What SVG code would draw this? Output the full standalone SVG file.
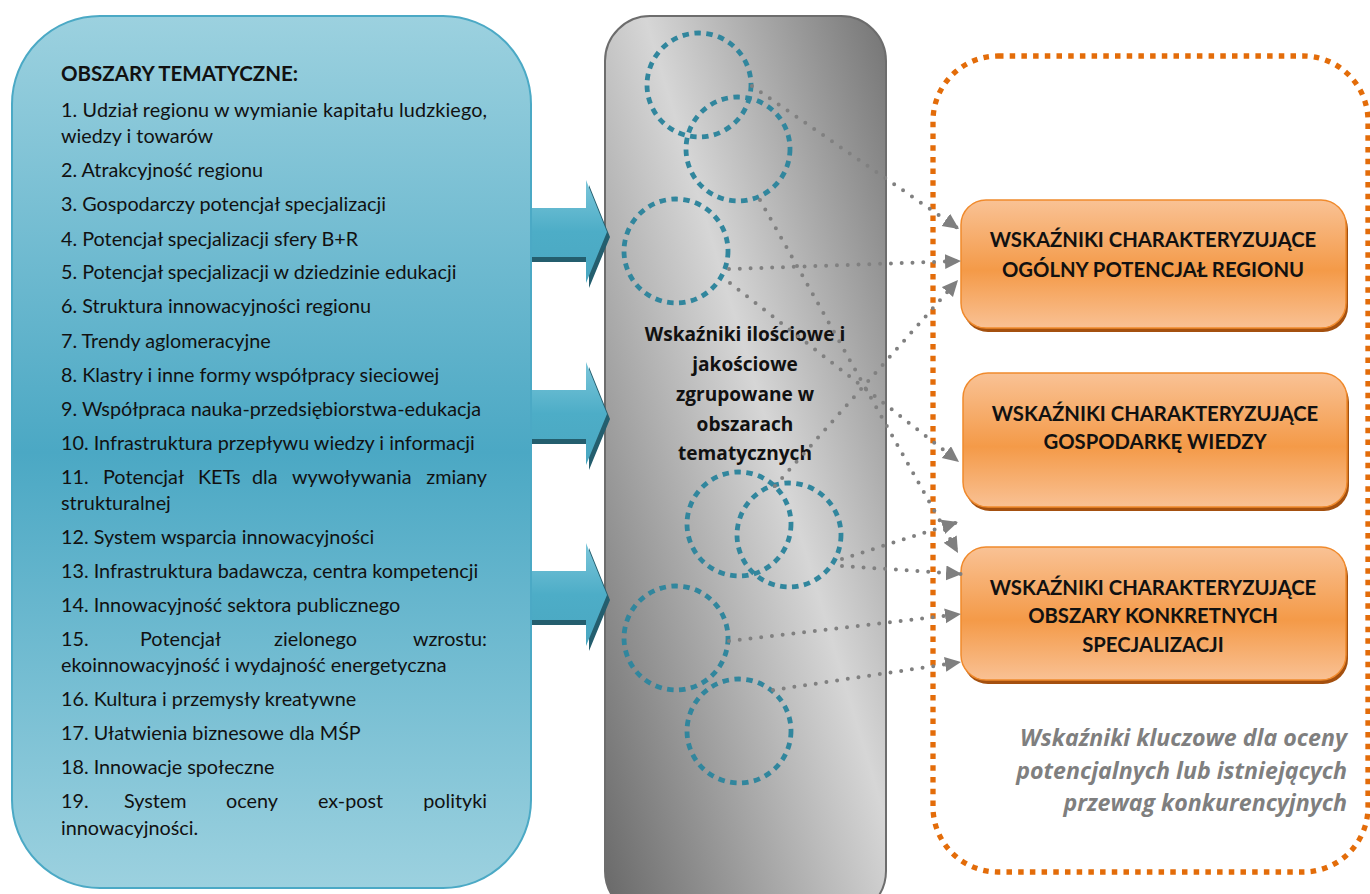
<svg xmlns="http://www.w3.org/2000/svg" width="1370" height="894" viewBox="0 0 1370 894">
  <defs>
    <linearGradient id="gPanel" x1="0" y1="0" x2="0" y2="1">
      <stop offset="0" stop-color="#9CD1DF"/>
      <stop offset="0.5" stop-color="#4BA8C4"/>
      <stop offset="1" stop-color="#9CD1DF"/>
    </linearGradient>
    <linearGradient id="gArrow" x1="0" y1="0" x2="0" y2="1">
      <stop offset="0" stop-color="#7CC6DA"/>
      <stop offset="0.5" stop-color="#4DADC7"/>
      <stop offset="1" stop-color="#4AA7C1"/>
    </linearGradient>
    <linearGradient id="gColumn" gradientUnits="userSpaceOnUse" x1="487" y1="533" x2="1061" y2="361">
      <stop offset="0" stop-color="#666666"/>
      <stop offset="0.5" stop-color="#D6D6D6"/>
      <stop offset="1" stop-color="#575757"/>
    </linearGradient>
    <linearGradient id="gOrange" x1="0" y1="0" x2="0" y2="1">
      <stop offset="0" stop-color="#F9C295"/>
      <stop offset="0.55" stop-color="#F49A48"/>
      <stop offset="1" stop-color="#F9C194"/>
    </linearGradient>
    <marker id="head" markerUnits="userSpaceOnUse" markerWidth="17" markerHeight="16" refX="16" refY="7.5" orient="auto">
      <path d="M0,0 L16,7.5 L0,15 Z" fill="#7F7F7F"/>
    </marker>
  </defs>
  <style>
    .item { font-family: Lato, "Open Sans", sans-serif; font-size: 19.8px; fill: #111111; }
    .end { text-anchor: end; }
    .head { font-family: Lato, "Open Sans", sans-serif; font-size: 20.5px; font-weight: bold; fill: #111111; }
    .mid { font-family: "Open Sans", Lato, sans-serif; font-size: 19.1px; font-weight: bold; fill: #111111; text-anchor: middle; }
    .box { fill: url(#gOrange); stroke: #F08A2C; stroke-width: 1.5; }
    .boxShadow { fill: #A4500F; }
    .boxText { font-family: Lato, "Open Sans", sans-serif; font-size: 20.3px; font-weight: bold; fill: #111111; text-anchor: middle; }
    .ring { fill: none; stroke: #31869D; stroke-width: 4.8; stroke-dasharray: 6.5 5.5; }
    .link { fill: none; stroke: #808080; stroke-width: 4; stroke-linecap: round; stroke-dasharray: 0 10.8; marker-end: url(#head); }
    .note { font-family: "Open Sans", Lato, sans-serif; font-size: 23.2px; font-weight: bold; font-style: italic; fill: #7F7F7F; text-anchor: end; }
  </style>

  <rect width="1370" height="894" fill="#FFFFFF"/>

  <!-- dotted frame around the key indicators -->
  <rect id="frame-key" x="933" y="56" width="435" height="816" rx="65" fill="none" stroke="#E36C09" stroke-width="5.3" stroke-dasharray="5.5 6.2"/>

  <!-- centre column -->
  <g id="column-indicators">
    <rect x="605" y="16" width="281" height="900" rx="45" fill="url(#gColumn)" stroke="#6D6D6D" stroke-width="2"/>
    <circle class="ring" cx="699" cy="85" r="52"/>
    <circle class="ring" cx="738" cy="149" r="52"/>
    <circle class="ring" cx="676" cy="251" r="52"/>
    <circle class="ring" cx="739" cy="524" r="52"/>
    <circle class="ring" cx="789" cy="535" r="52"/>
    <circle class="ring" cx="676" cy="638" r="52"/>
    <circle class="ring" cx="739" cy="731" r="52"/>
    <text class="mid" x="745" y="341">Wskaźniki ilościowe i</text>
    <text class="mid" x="745" y="371">jakościowe</text>
    <text class="mid" x="745" y="401">zgrupowane w</text>
    <text class="mid" x="745" y="431">obszarach</text>
    <text class="mid" x="745" y="460">tematycznych</text>
  </g>

  <!-- block arrows from the themes panel into the column -->
  <g id="arrow-1">
    <path d="M523,213 L589,213 L589,185 L610,237 L589,288 L589,262 L523,262 Z" fill="#245E6E"/>
    <path d="M520,208 L586,208 L586,180 L607,232 L586,283 L586,257 L520,257 Z" fill="url(#gArrow)"/>
  </g>
  <g id="arrow-2">
    <path d="M523,395 L589,395 L589,367 L610,419 L589,470 L589,444 L523,444 Z" fill="#245E6E"/>
    <path d="M520,390 L586,390 L586,362 L607,414 L586,465 L586,439 L520,439 Z" fill="url(#gArrow)"/>
  </g>
  <g id="arrow-3">
    <path d="M523,576 L589,576 L589,548 L610,600 L589,651 L589,625 L523,625 Z" fill="#245E6E"/>
    <path d="M520,571 L586,571 L586,543 L607,595 L586,646 L586,620 L520,620 Z" fill="url(#gArrow)"/>
  </g>

  <!-- thematic areas panel -->
  <g id="panel-themes">
    <rect x="12" y="16" width="519" height="872" rx="88" fill="url(#gPanel)" stroke="#4BA9C5" stroke-width="2"/>
    <text class="head" x="61" y="81">OBSZARY TEMATYCZNE:</text>
    <text class="item" x="61" y="117" textLength="426">1. Udział regionu w wymianie kapitału ludzkiego,</text>
    <text class="item" x="61" y="143">wiedzy i towarów</text>
    <text class="item" x="61" y="177">2. Atrakcyjność regionu</text>
    <text class="item" x="61" y="211">3. Gospodarczy potencjał specjalizacji</text>
    <text class="item" x="61" y="246">4. Potencjał specjalizacji sfery B+R</text>
    <text class="item" x="61" y="279">5. Potencjał specjalizacji w dziedzinie edukacji</text>
    <text class="item" x="61" y="313">6. Struktura innowacyjności regionu</text>
    <text class="item" x="61" y="348">7. Trendy aglomeracyjne</text>
    <text class="item" x="61" y="382">8. Klastry i inne formy współpracy sieciowej</text>
    <text class="item" x="61" y="416">9. Współpraca nauka-przedsiębiorstwa-edukacja</text>
    <text class="item" x="61" y="450">10. Infrastruktura przepływu wiedzy i informacji</text>
    <text class="item" y="484"><tspan x="61">11.</tspan><tspan x="103">Potencjał</tspan><tspan x="198">KETs</tspan><tspan x="252">dla</tspan><tspan x="292">wywoływania</tspan></text>
    <text class="item end" x="487" y="484">zmiany</text>
    <text class="item" x="61" y="510">strukturalnej</text>
    <text class="item" x="61" y="544">12. System wsparcia innowacyjności</text>
    <text class="item" x="61" y="578">13. Infrastruktura badawcza, centra kompetencji</text>
    <text class="item" x="61" y="612">14. Innowacyjność sektora publicznego</text>
    <text class="item" y="646"><tspan x="61">15.</tspan><tspan x="140">Potencjał</tspan><tspan x="274">zielonego</tspan></text>
    <text class="item end" x="487" y="646">wzrostu:</text>
    <text class="item" x="61" y="672">ekoinnowacyjność i wydajność energetyczna</text>
    <text class="item" x="61" y="706">16. Kultura i przemysły kreatywne</text>
    <text class="item" x="61" y="740">17. Ułatwienia biznesowe dla MŚP</text>
    <text class="item" x="61" y="774">18. Innowacje społeczne</text>
    <text class="item" y="808"><tspan x="61">19.</tspan><tspan x="124">System</tspan><tspan x="226">oceny</tspan><tspan x="318">ex-post</tspan></text>
    <text class="item end" x="487" y="808">polityki</text>
    <text class="item" x="61" y="835">innowacyjności.</text>
  </g>

  <!-- indicator boxes -->
  <g id="box-general">
    <rect class="boxShadow" x="963" y="204" width="385" height="128" rx="25"/>
    <rect class="box" x="961" y="200" width="385" height="128" rx="25"/>
    <text class="boxText" x="1153" y="247">WSKAŹNIKI CHARAKTERYZUJĄCE</text>
    <text class="boxText" x="1153" y="277">OGÓLNY POTENCJAŁ REGIONU</text>
  </g>
  <g id="box-knowledge">
    <rect class="boxShadow" x="965" y="377" width="384" height="134" rx="25"/>
    <rect class="box" x="963" y="373" width="384" height="134" rx="25"/>
    <text class="boxText" x="1155" y="421">WSKAŹNIKI CHARAKTERYZUJĄCE</text>
    <text class="boxText" x="1155" y="449">GOSPODARKĘ WIEDZY</text>
  </g>
  <g id="box-specialisations">
    <rect class="boxShadow" x="963" y="551" width="385" height="133" rx="25"/>
    <rect class="box" x="961" y="547" width="385" height="133" rx="25"/>
    <text class="boxText" x="1153" y="595">WSKAŹNIKI CHARAKTERYZUJĄCE</text>
    <text class="boxText" x="1153" y="623">OBSZARY KONKRETNYCH</text>
    <text class="boxText" x="1153" y="652">SPECJALIZACJI</text>
  </g>

  <!-- dotted connectors from the groups to the boxes -->
  <g id="connectors">
    <line class="link" x1="752" y1="86" x2="959" y2="229"/>
    <line class="link" x1="729" y1="269" x2="961" y2="261"/>
    <line class="link" x1="775" y1="486" x2="958" y2="280"/>
    <line class="link" x1="760" y1="200" x2="958" y2="553"/>
    <line class="link" x1="730" y1="283" x2="959" y2="462"/>
    <line class="link" x1="842" y1="559" x2="958" y2="522"/>
    <line class="link" x1="842" y1="566" x2="962" y2="574"/>
    <line class="link" x1="729" y1="641" x2="961" y2="614"/>
    <line class="link" x1="773" y1="690" x2="961" y2="662"/>
  </g>

  <!-- caption inside the dotted frame -->
  <g id="note-key">
    <text class="note" x="1347" y="746">Wskaźniki kluczowe dla oceny</text>
    <text class="note" x="1347" y="779">potencjalnych lub istniejących</text>
    <text class="note" x="1347" y="811">przewag konkurencyjnych</text>
  </g>
</svg>
